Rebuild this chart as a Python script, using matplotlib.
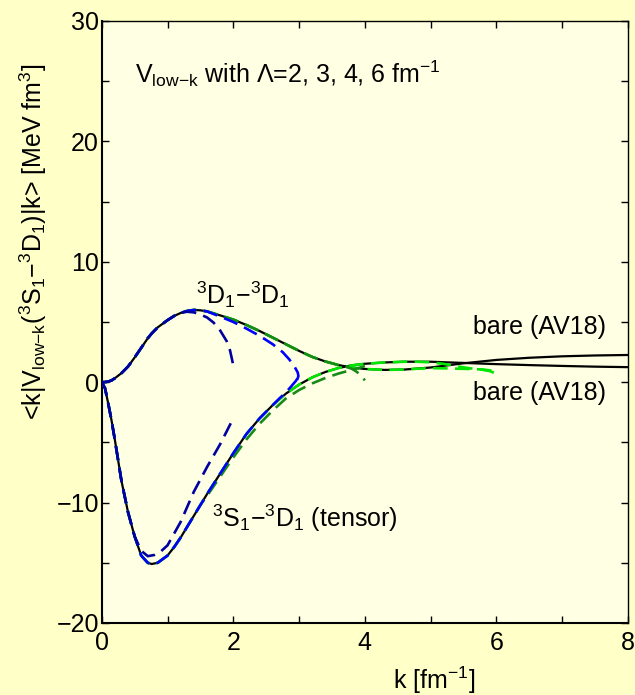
import numpy as np
import matplotlib
matplotlib.use("Agg")
import matplotlib.pyplot as plt

plt.rcParams["font.family"] = ["Liberation Sans", "DejaVu Sans"]
plt.rcParams["mathtext.fontset"] = "custom"
plt.rcParams["mathtext.rm"] = "Liberation Sans"
plt.rcParams["mathtext.it"] = "Liberation Sans"
plt.rcParams["mathtext.default"] = "regular"

# momentum grid of the bare AV18 matrix elements [fm^-1]
k_bare = np.array([0, 0.05, 0.1, 0.15, 0.2, 0.3, 0.4, 0.5, 0.6, 0.7, 0.76, 0.85,
                   1.0, 1.1, 1.2, 1.3, 1.4, 1.5, 1.6, 1.8, 2.0, 2.2, 2.4, 2.6,
                   2.8, 3.0, 3.2, 3.4, 3.6, 3.8, 4.0, 4.3, 4.6, 5.0, 5.5, 6.0,
                   6.5, 7.0, 7.5, 8.0])
# 3D1-3D1 diagonal element [MeV fm^3]
dd_bare = np.array([0, 0.01, 0.05, 0.15, 0.33, 0.75, 1.3, 2.05, 2.85, 3.65, 4.05, 4.55,
                    5.15, 5.5, 5.75, 5.92, 6.0, 5.97, 5.88, 5.55, 5.2, 4.75, 4.25, 3.7,
                    3.15, 2.6, 2.1, 1.72, 1.42, 1.22, 1.1, 1.02, 1.05, 1.22, 1.57, 1.85,
                    2.03, 2.15, 2.22, 2.26])
# 3S1-3D1 tensor element [MeV fm^3]
sd_bare = np.array([0, -0.5, -1.8, -3.2, -4.8, -8.2, -10.8, -12.8, -14.4, -15.0, -15.1, -15.0,
                    -14.4, -13.7, -12.9, -12.0, -11.1, -10.2, -9.3, -7.6, -5.9, -4.3, -3.0, -1.9,
                    -0.95, -0.2, 0.4, 0.85, 1.18, 1.4, 1.53, 1.64, 1.7, 1.7, 1.6, 1.5,
                    1.42, 1.35, 1.29, 1.25])

# V_low-k: points where each cutoff leaves the bare curve, up to k = Lambda
lambdas = [6, 4, 3, 2]
colors = ["#00e600", "#178a17", "#0000ff", "#0000a0"]

dd_split = {6: 4.6, 4: 3.6, 3: 1.6, 2: 1.1}
sd_split = {6: 4.6, 4: 1.5, 3: 2.6, 2: 0.5}

dd_tail_k = {
    6: [4.8, 5.0, 5.2, 5.4, 5.6, 5.8, 5.95, 6.0],
    4: [3.7, 3.8, 3.88, 3.95, 4.0],
    3: [1.8, 2.0, 2.2, 2.4, 2.6, 2.75, 2.85, 2.93, 2.98, 2.99, 2.97],
    2: [1.2, 1.3, 1.4, 1.5, 1.6, 1.7, 1.8, 1.9, 1.95, 2.0],
}
dd_tail_v = {
    6: [1.12, 1.17, 1.15, 1.12, 1.1, 1.05, 0.95, 0.85],
    4: [1.3, 1.12, 0.85, 0.5, 0.15],
    3: [5.45, 5.0, 4.45, 3.85, 3.15, 2.5, 1.9, 1.3, 0.8, 0.5, 0.2],
    2: [5.78, 5.85, 5.8, 5.62, 5.38, 4.95, 4.3, 3.4, 2.65, 1.4],
}
sd_tail_k = {
    6: [4.8, 5.0, 5.2, 5.4, 5.6, 5.8, 5.9, 6.0],
    4: [1.6, 1.8, 2.0, 2.2, 2.4, 2.6, 2.8, 3.0, 3.2, 3.4, 3.6, 3.8, 3.95, 4.0],
    3: [2.7, 2.8, 2.88, 2.95, 2.98],
    2: [0.6, 0.7, 0.8, 0.9, 1.0, 1.2, 1.4, 1.6, 1.8, 2.0],
}
sd_tail_v = {
    6: [1.7, 1.65, 1.52, 1.32, 1.15, 1.02, 0.92, 0.7],
    4: [-9.45, -7.85, -6.25, -4.75, -3.45, -2.35, -1.35, -0.65, -0.1, 0.35, 0.72,
        1.02, 1.25, 1.35],
    3: [-1.35, -0.85, -0.35, 0.1, 0.35],
    2: [-14.0, -14.45, -14.35, -14.05, -13.55, -11.6, -9.1, -7.05, -5.15, -3.0],
}


def vlowk_curve(bare, split, tail_k, tail_v):
    keep = k_bare <= split + 1e-9
    return (np.concatenate([k_bare[keep], tail_k]),
            np.concatenate([bare[keep], tail_v]))


fig = plt.figure(figsize=(6.35, 6.95), dpi=100, facecolor="#ffffc8")
ax = fig.add_axes([0.1602, 0.1036, 0.8288, 0.8662], facecolor="#ffffe3")

ax.plot(k_bare, dd_bare, color="black", lw=1.6, zorder=2)
ax.plot(k_bare, sd_bare, color="black", lw=1.6, zorder=2)

for lam, col in zip(lambdas, colors):
    kk, vv = vlowk_curve(dd_bare, dd_split[lam], dd_tail_k[lam], dd_tail_v[lam])
    ax.plot(kk, vv, color=col, lw=1.9, dashes=(5.5, 2.8), zorder=3)
    kk, vv = vlowk_curve(sd_bare, sd_split[lam], sd_tail_k[lam], sd_tail_v[lam])
    ax.plot(kk, vv, color=col, lw=1.9, dashes=(5.5, 2.8), zorder=3)

ax.set_xlim(0, 8)
ax.set_ylim(-20, 30)
ax.set_xticks([0, 2, 4, 6, 8])
ax.set_xticks([1, 3, 5, 7], minor=True)
ax.set_yticks([-20, -10, 0, 10, 20, 30])
ax.set_yticks([-15, -5, 5, 15, 25], minor=True)
ax.tick_params(which="both", direction="in", top=True, right=True,
               length=5, width=1, labelsize=18)
ax.tick_params(axis="x", pad=6)
ax.tick_params(axis="y", pad=2)
for side in ["left", "bottom"]:
    ax.spines[side].set_linewidth(1.5)
for side in ["top", "right"]:
    ax.spines[side].set_linewidth(1.0)

fs = 18
vlk = r"V$_{\rm low{-}k}$"
ax.text(0.51, 25.6, vlk + r" with Λ=2, 3, 4, 6 fm$^{-1}$",
        fontsize=fs, va="center")
ax.text(2.15, 7.3, r"$^3$D$_1$−$^3$D$_1$", fontsize=fs, ha="center", va="center")
ax.text(7.67, 4.6, "bare (AV18)", fontsize=fs, ha="right", va="center")
ax.text(7.67, -0.9, "bare (AV18)", fontsize=fs, ha="right", va="center")
ax.text(1.68, -11.3, r"$^3$S$_1$−$^3$D$_1$ (tensor)", fontsize=fs, va="center")

ax.text(0.631, -0.095, r"k [fm$^{-1}$]", fontsize=fs, ha="center", va="center",
        transform=ax.transAxes)
ax.text(-0.1305, 0.633, "<k|" + vlk + r"($^3$S$_1$−$^3$D$_1$)|k> [MeV fm$^3$]",
        fontsize=fs, rotation=90, ha="center", va="center", transform=ax.transAxes)

fig.savefig("out.png", dpi=100, facecolor=fig.get_facecolor())
